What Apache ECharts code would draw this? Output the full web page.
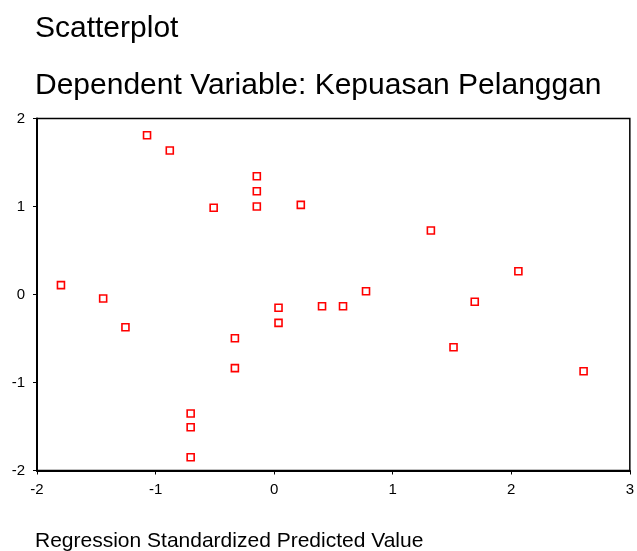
<!DOCTYPE html>
<html>
<head>
<meta charset="utf-8">
<script src="https://cdn.jsdelivr.net/npm/echarts@6/dist/echarts.min.js"></script>
<style>html,body{margin:0;padding:0;background:#fff;}#c{width:637px;height:551px;}</style>
</head>
<body>
<div id="c"></div>
<script>
const titleText = "Scatterplot";
const subtitleText = "Dependent Variable: Kepuasan Pelanggan";
const xAxisName = "Regression Standardized Predicted Value";
const xTicks = [-2, -1, 0, 1, 2, 3];
const yTicks = [-2, -1, 0, 1, 2];
const predicted = [-1.798, -1.442, -1.254, -1.072, -0.880, -0.704, -0.704, -0.704, -0.510, -0.331, -0.331, -0.146, -0.146, -0.146, 0.037, 0.037, 0.225, 0.404, 0.581, 0.775, 1.322, 1.513, 1.692, 2.060, 2.610];
const residual  = [0.106, -0.046, -0.372, 1.810, 1.636, -1.352, -1.508, -1.849, 0.985, -0.497, -0.837, 1.344, 1.174, 1.000, -0.151, -0.322, 1.019, -0.133, -0.133, 0.037, 0.727, -0.599, -0.083, 0.265, -0.872];

const pts = predicted.map((x, i) => [x, residual[i]]);
const font = '"Liberation Sans", Arial, sans-serif';
const chart = echarts.init(document.getElementById('c'), null, {renderer: 'canvas'});
chart.setOption({
  animation: false,
  backgroundColor: '#fff',
  title: [
    {text: titleText, left: 35, top: 14, padding: 0, textStyle: {fontFamily: font, fontSize: 30, fontWeight: 'normal', color: '#000'}},
    {text: subtitleText, left: 35, top: 71, padding: 0, textStyle: {fontFamily: font, fontSize: 30, fontWeight: 'normal', color: '#000'}},
    {text: xAxisName, left: 35, top: 531, padding: 0, textStyle: {fontFamily: font, fontSize: 21, fontWeight: 'normal', color: '#000'}}
  ],
  grid: {left: 37, right: 6, top: 118.5, bottom: 80.5, show: true, borderColor: '#000', borderWidth: 1.5, backgroundColor: 'transparent'},
  xAxis: {
    type: 'value', min: xTicks[0], max: xTicks[xTicks.length - 1], interval: 1,
    axisLine: {show: true, onZero: false, lineStyle: {color: '#000', width: 2}},
    axisTick: {show: true, length: 4, lineStyle: {color: '#000', width: 1}},
    axisLabel: {fontFamily: font, fontSize: 15, color: '#000', margin: 12},
    splitLine: {show: false}
  },
  yAxis: {
    type: 'value', min: yTicks[0], max: yTicks[yTicks.length - 1], interval: 1,
    axisLine: {show: true, onZero: false, lineStyle: {color: '#000', width: 2}},
    axisTick: {show: true, length: 4, lineStyle: {color: '#000', width: 1}},
    axisLabel: {fontFamily: font, fontSize: 15, color: '#000', margin: 12},
    splitLine: {show: false}
  },
  series: [{
    type: 'scatter',
    data: pts,
    symbol: 'rect',
    symbolSize: 7,
    itemStyle: {color: '#fff', borderColor: '#ff0000', borderWidth: 1.6, opacity: 1}
  }]
});
</script>
</body>
</html>
